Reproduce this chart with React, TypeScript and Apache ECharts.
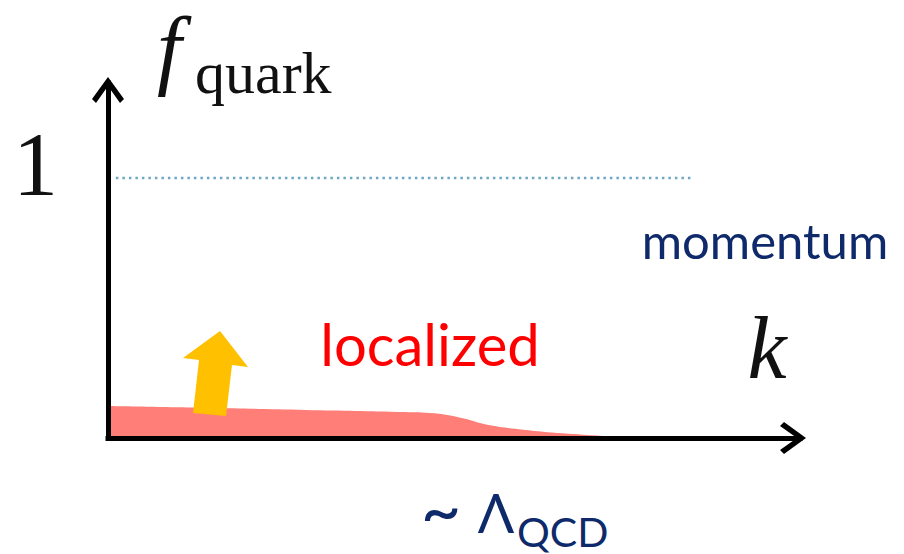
import React, { useEffect, useRef } from "react";
import * as echarts from "echarts";

// Momentum k (arbitrary units) and quark occupation f_quark for the "localized" band
const kValues = [0, 1, 2, 3, 3.35, 3.6, 3.85, 4.2, 4.6, 5.0, 5.3];
const fValues = [0.123, 0.116, 0.108, 0.1, 0.093, 0.075, 0.05, 0.032, 0.018, 0.008, 0.002];
// Saturation level f = 1 (dotted guide)
const guideK = [0.08, 5.91];
const guideF = [1, 1];
const yTickLabels = ["1"];

const chevron = "path://M16,0 L32,22 L28,26 L16,9 L4,26 L0,22 Z";

export default function App() {
  const ref = useRef<HTMLDivElement>(null);
  useEffect(() => {
    if (!ref.current) return;
    const chart = echarts.init(ref.current, null, { renderer: "svg" });
    const sans = 'Lato, "Noto Sans", sans-serif';
    const serif = '"Liberation Serif", "DejaVu Serif", serif';
    const navy = "#0f2a6b";
    chart.setOption({
      animation: false,
      backgroundColor: "#ffffff",
      grid: { left: 108, right: 104, top: 83, bottom: 116, containLabel: false },
      xAxis: {
        type: "value",
        min: 0,
        max: 7,
        z: 5,
        axisLine: {
          show: true,
          onZero: false,
          symbol: ["none", chevron],
          symbolSize: [32, 28],
          symbolOffset: [0, -7],
          lineStyle: { color: "#000", width: 5, cap: "square" },
        },
        axisTick: { show: false },
        axisLabel: { show: false },
        splitLine: { show: false },
      },
      yAxis: {
        type: "value",
        min: 0,
        max: 1.365,
        interval: 1,
        z: 5,
        axisLine: {
          show: true,
          onZero: false,
          symbol: ["none", chevron],
          symbolSize: [32, 28],
          symbolOffset: [0, -7],
          lineStyle: { color: "#000", width: 5, cap: "square" },
        },
        axisTick: { show: false },
        splitLine: { show: false },
        axisLabel: {
          show: true,
          margin: 50,
          color: "#111",
          fontFamily: serif,
          fontSize: 90,
          verticalAlign: "bottom",
          lineHeight: 26,
          formatter: (v: number) => (v === 1 ? yTickLabels[0] : ""),
        },
      },
      series: [
        {
          type: "line",
          z: 1,
          smooth: 0.4,
          showSymbol: false,
          data: kValues.map((k, i) => [k, fValues[i]]),
          lineStyle: { width: 0 },
          areaStyle: { color: "#ff7e78", opacity: 1 },
        },
        {
          type: "line",
          z: 1,
          showSymbol: false,
          data: guideK.map((k, i) => [k, guideF[i]]),
          lineStyle: { color: "#6fa6c4", width: 2.5, type: [2.5, 4] },
        },
      ],
      graphic: [
        {
          type: "polygon",
          z: 10,
          shape: {
            points: [
              [220, 331],
              [248, 367],
              [232, 365],
              [226, 416],
              [193, 413],
              [199, 360],
              [183, 358],
            ],
          },
          style: { fill: "#ffc000" },
        },
        {
          type: "text",
          x: 157,
          y: 48,
          style: {
            text: "f",
            font: `italic 88px ${serif}`,
            fill: "#111",
            textAlign: "left",
            textVerticalAlign: "middle",
          },
        },
        {
          type: "text",
          x: 195,
          y: 73,
          style: {
            text: "quark",
            font: `60px ${serif}`,
            fill: "#111",
            textAlign: "left",
            textVerticalAlign: "middle",
          },
        },
        {
          type: "text",
          x: 767,
          y: 348,
          style: {
            text: "k",
            font: `italic 88px ${serif}`,
            fill: "#111",
            textAlign: "center",
            textVerticalAlign: "middle",
          },
        },
        {
          type: "text",
          x: 765,
          y: 240,
          style: {
            text: "momentum",
            font: `49px ${sans}`,
            fill: navy,
            textAlign: "center",
            textVerticalAlign: "middle",
          },
        },
        {
          type: "text",
          x: 430,
          y: 343,
          style: {
            text: "localized",
            font: `58px ${sans}`,
            fill: "#ff0000",
            textAlign: "center",
            textVerticalAlign: "middle",
          },
        },
        {
          type: "text",
          x: 441,
          y: 508,
          style: {
            text: "~",
            font: `70px ${sans}`,
            fill: navy,
            textAlign: "center",
            textVerticalAlign: "middle",
          },
        },
        {
          type: "text",
          x: 496,
          y: 512,
          style: {
            text: "Λ",
            font: `54px ${sans}`,
            fill: navy,
            textAlign: "center",
            textVerticalAlign: "middle",
          },
        },
        {
          type: "text",
          x: 517,
          y: 531,
          style: {
            text: "QCD",
            font: `41px ${sans}`,
            fill: navy,
            textAlign: "left",
            textVerticalAlign: "middle",
          },
        },
      ],
    });
    return () => chart.dispose();
  }, []);
  return <div ref={ref} style={{ width: 904, height: 554, position: "absolute", left: 0, top: 0 }} />;
}
